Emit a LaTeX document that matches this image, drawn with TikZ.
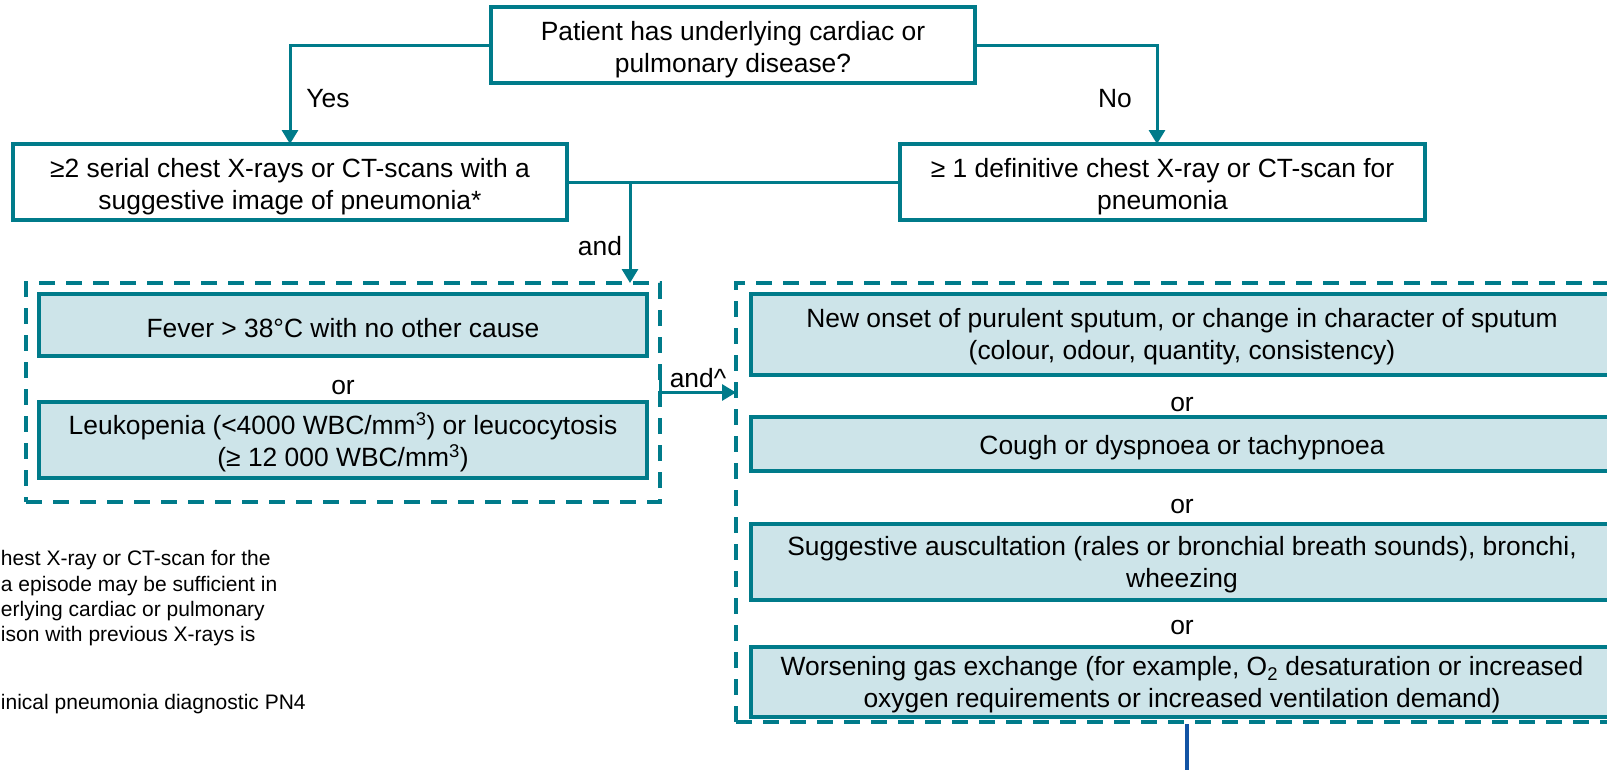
\documentclass[tikz,border=0pt]{standalone}
\usepackage{fontspec}
\setmainfont{Liberation Sans}
\usetikzlibrary{arrows.meta,calc}
\definecolor{flowteal}{RGB}{0,123,138}
\definecolor{critfill}{RGB}{205,228,233}
\definecolor{tailblue}{RGB}{18,84,164}
\begin{document}
\begin{tikzpicture}[x=1pt,y=-1pt,
  every node/.style={font=\fontsize{26.4}{32}\selectfont, inner sep=0pt, outer sep=0pt},
  plainbox/.style={draw=flowteal, line width=3.3pt, fill=white},
  critbox/.style={draw=flowteal, line width=3.3pt, fill=critfill},
  boxtext/.style={align=center},
  groupbox/.style={draw=flowteal, line width=4pt, dash pattern=on 16pt off 11pt},
  link/.style={draw=flowteal, line width=3pt},
  arrowlink/.style={link, -{Triangle[width=16pt,length=14pt]}},
  note/.style={font=\fontsize{21}{25}\selectfont, anchor=base west}]
\useasboundingbox (0,0) rectangle (1607,769);
\clip (0,0) rectangle (1607,769);

% decision and imaging criteria
\node[plainbox, minimum width=484pt, minimum height=76pt] (q) at (733,45) {};
\node[boxtext] (qt) at ($(q.center)+(0,4.5)$) {Patient has underlying cardiac or\\pulmonary disease?};
\node[plainbox, minimum width=554pt, minimum height=76pt] (serial) at (290,182) {};
\node[boxtext] (serialt) at ($(serial.center)+(0,4.5)$) {≥2 serial chest X-rays or CT-scans with a\\suggestive image of pneumonia*};
\node[plainbox, minimum width=525pt, minimum height=76pt] (single) at (1162.5,182) {};
\node[boxtext] (singlet) at ($(single.center)+(0,4.5)$) {≥ 1 definitive chest X-ray or CT-scan for\\pneumonia};

% dashed groups of signs
\node[groupbox, minimum width=634pt, minimum height=219pt] (sys) at (343,392.5) {};
\node[groupbox, minimum width=892pt, minimum height=439pt] (resp) at (1182,502.5) {};

% systemic signs
\node[critbox, minimum width=608pt, minimum height=62pt] (fever) at (343,325) {};
\node[boxtext] (fevert) at ($(fever.center)+(0,3)$) {Fever > 38°C with no other cause};
\node (or1) at (343,388) {or};
\node[critbox, minimum width=608pt, minimum height=76pt] (wbc) at (343,440) {};
\node[boxtext] (wbct) at ($(wbc.center)+(0,2)$) {Leukopenia (<4000 WBC/mm\textsuperscript{3}) or leucocytosis\\(≥ 12 000 WBC/mm\textsuperscript{3})};

% respiratory signs
\node[critbox, minimum width=862pt, minimum height=81pt] (sputum) at (1182,334.5) {};
\node[boxtext] (sputumt) at ($(sputum.center)+(0,2.5)$) {New onset of purulent sputum, or change in character of sputum\\(colour, odour, quantity, consistency)};
\node (or2) at (1182,405) {or};
\node[critbox, minimum width=862pt, minimum height=54pt] (cough) at (1182,444) {};
\node[boxtext] (cought) at ($(cough.center)+(0,4)$) {Cough or dyspnoea or tachypnoea};
\node (or3) at (1182,507) {or};
\node[critbox, minimum width=862pt, minimum height=76pt] (auscult) at (1182,562) {};
\node[boxtext] (auscultt) at ($(auscult.center)+(0,2.5)$) {Suggestive auscultation (rales or bronchial breath sounds), bronchi,\\wheezing};
\node (or4) at (1182,628) {or};
\node[critbox, minimum width=862pt, minimum height=70pt] (gas) at (1182,682) {};
\node[boxtext] (gast) at ($(gas.center)+(0,3)$) {Worsening gas exchange (for example, O\textsubscript{2} desaturation or increased\\oxygen requirements or increased ventilation demand)};

% connectors
\draw[arrowlink] (q.west) -| (serial.north);
\draw[arrowlink] (q.east) -| ($(single.north)+(-5.5,0)$);
\node (yes) at (328,99) {Yes};
\node (no) at (1115,99) {No};
\draw[link] (serial.east) -- (single.west);
\coordinate (andfork) at (630,182);
\draw[arrowlink] (andfork) -- (andfork |- sys.north);
\node (and1) at (600,246) {and};
\draw[arrowlink] ($(sys.east)+(0,-15)$) -- (sys.east) -- (sys.east -| resp.west);
\node (and2) at (698,378) {and\textasciicircum};
\coordinate (tail) at (1187,790);
\draw[draw=tailblue, line width=3.5pt] ($(tail |- resp.south)+(0,2)$) -- (tail);

% footnotes
\node[note] (fn1) at (1,565.5) {hest X-ray or CT-scan for the};
\node[note] (fn2) at (1,591.5) {a episode may be sufficient in};
\node[note] (fn3) at (1,616.5) {erlying cardiac or pulmonary};
\node[note] (fn4) at (1,641.5) {ison with previous X-rays is};
\node[note] (fn5) at (1,709.5) {inical pneumonia diagnostic PN4};
\end{tikzpicture}
\end{document}
